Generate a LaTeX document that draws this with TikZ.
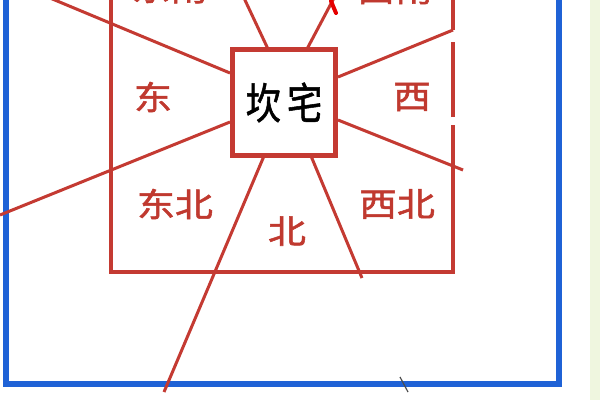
\documentclass[tikz,border=0pt]{standalone}
\usepackage{fontspec}
\newfontfamily\cjk[FakeStretch=1.15, FakeBold=1.6]{Noto Sans CJK SC}
\newfontfamily\song[FakeStretch=0.82, FakeBold=1.2]{Noto Sans CJK SC}
\definecolor{lred}{HTML}{C43A32}
\definecolor{tred}{HTML}{C0392F}
\definecolor{bblue}{HTML}{1F62D6}
\definecolor{lgreen}{HTML}{EFF6DF}
\tikzset{
  redline/.style={draw=lred, line width=3pt},
  boxline/.style={draw=lred, line width=4pt},
  lab/.style={font=\cjk\fontsize{33}{33}\selectfont, text=tred, inner sep=0pt},
  centerbox/.style={draw=lred, line width=5pt, minimum width=103pt, minimum height=106pt, inner sep=0pt,
     font=\song\fontsize{43}{43}\selectfont, text=black},
  blueline/.style={draw=bblue, line width=6pt}
}
\begin{document}
\begin{tikzpicture}[x=1pt,y=-1pt]
\useasboundingbox (0,0) rectangle (600,400);
\fill[white] (0,0) rectangle (600,400);
\fill[lgreen] (590,0) rectangle (600,400);
% blue frame
\draw[blueline] (6,-10) -- (6,384) -- (559,384) -- (559,-10);
% outer red box
\coordinate (ul) at (111,-10);
\coordinate (bl) at (111,272);
\coordinate (br) at (453,272);
\coordinate (r1) at (453,30);
\coordinate (r2) at (453,42);
\coordinate (r3) at (453,117);
\coordinate (r4) at (453,125);
\coordinate (rt) at (453,-10);
\draw[boxline] (ul) -- (bl) -- (br) -- (r4);
\draw[boxline] (r3) -- (r2);
\draw[boxline] (rt) -- (r1);
% centre box
\node[centerbox] (kz) at (284,102.5) {坎\hspace{6pt}宅};
% radiating lines
\coordinate (e1) at (50,-2);
\coordinate (e2) at (244,-2);
\coordinate (e3) at (334,-2);
\coordinate (e5) at (0,215);
\coordinate (e6) at (463,170);
\coordinate (e7) at (164,392);
\coordinate (e8) at (362,278);
\draw[redline] (kz.west |- 0,73) -- (e1);
\draw[redline] (268,49) -- (e2);
\draw[redline] (307,49) -- (e3);
\draw[redline] (kz.east |- 0,77) -- (r1);
\draw[redline] (kz.west |- 0,122) -- (e5);
\draw[redline] (kz.east |- 0,120) -- (e6);
\draw[redline] (264,156) -- (e7);
\draw[redline] (311,156) -- (e8);
% bright red mark
\draw[draw=red!90!black, line width=4pt, line cap=round] (331,1) .. controls (333,6) .. (336,13);
% small gray mark
\draw[draw=black!70, line width=1.2pt] (400,377) -- (408,392);
% labels (cut off at the top edge, as in the reference)
\node[lab] (se) at (170,-12) {东南};
\node[lab] (sw) at (395,-11) {西南};
\node[lab] (east) at (153,97) {东};
\node[lab] (west) at (412,97) {西};
\node[lab] (ne) at (175,204) {东北};
\node[lab] (nn) at (287,231) {北};
\node[lab] (nw) at (397,204) {西北};
\end{tikzpicture}
\end{document}
